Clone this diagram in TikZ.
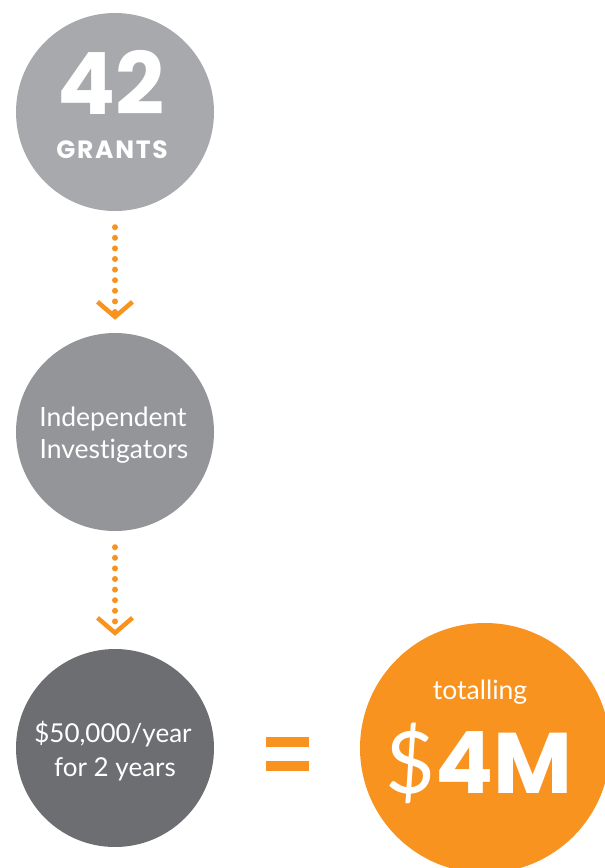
\documentclass[tikz,border=0pt]{standalone}
\usepackage{fontspec}
\usetikzlibrary{arrows.meta,calc}
\setmainfont{Lato}[Ligatures=NoCommon]
\newfontfamily\headfont{Poppins}
\definecolor{orangeA}{HTML}{F7931E}
\definecolor{greyA}{HTML}{A7A9AC}
\definecolor{greyB}{HTML}{939598}
\definecolor{greyC}{HTML}{6D6E71}
\begin{document}
\begin{tikzpicture}[x=1pt,y=-1pt,
  disc/.style={circle, minimum size=198pt, inner sep=0pt},
  txt/.style={text=white, inner sep=0pt, anchor=base},
  flow/.style={draw=orangeA, line width=6pt, line cap=round,
    dash pattern=on 0pt off 10.6pt, shorten <=16pt, shorten >=13pt,
    -{Straight Barb[length=15pt,width=35pt,line width=4.5pt]}},
  bar/.style={fill=orangeA}]
\useasboundingbox (0,0) rectangle (605,868);
\clip (0,0) rectangle (605,868);

% the three steps
\node[disc, fill=greyA] (grants) at (115,112) {};
\node[disc, fill=greyB] (invest) at (115,432) {};
\node[disc, fill=greyC] (money) at (115,748) {};

\node[txt, font=\headfont\bfseries\fontsize{86}{86}\selectfont]
  (num) at ($(grants.center)+(-4,2)$) {42};
\node[txt, font=\headfont\bfseries\fontsize{25}{25}\selectfont\addfontfeatures{LetterSpace=7}]
  (unit) at ($(grants.center)+(-3,46)$) {GRANTS};

\node[txt, font=\fontsize{26.5}{30}\selectfont]
  (ind) at ($(invest.center)+(-2,-6)$) {Independent};
\node[txt, font=\fontsize{26.5}{30}\selectfont]
  (inv) at ($(invest.center)+(-1,26)$) {Investigators};

\node[txt, font=\fontsize{26}{30}\selectfont]
  (rate) at ($(money.center)+(-2,-6)$) {\$50,000/year};
\node[txt, font=\fontsize{26}{30}\selectfont]
  (term) at ($(money.center)+(0,28)$) {for 2 years};

% dotted connectors
\draw[flow] (grants) -- (invest);
\draw[flow] (invest) -- (money);

% equals sign
\fill[bar] (266,737) rectangle (309,747);
\fill[bar] (266,761) rectangle (309,771);

% total
\node[disc, minimum size=250pt, fill=orangeA] (total) at (485,748) {};
\node[txt, font=\fontsize{26.5}{30}\selectfont]
  (lead) at ($(total.center)+(-5,-49)$) {totalling};
\node[txt, font=\fontsize{86}{86}\selectfont]
  (sum) at ($(total.center)+(-6,45)$) {\$\headfont\bfseries 4M};
\end{tikzpicture}
\end{document}
